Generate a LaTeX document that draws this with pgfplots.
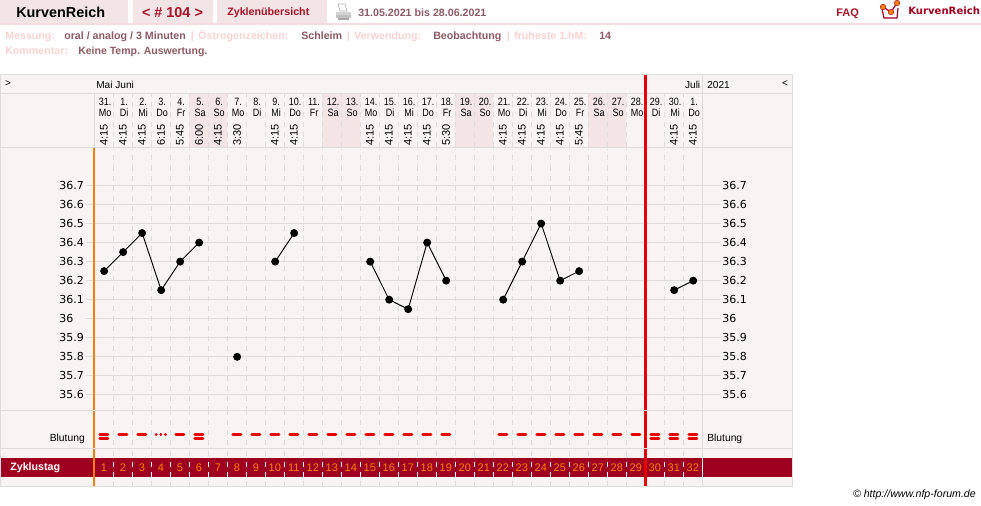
\documentclass[border=0pt]{standalone}
\usepackage{pgfplots}
\usepackage{graphicx}
\usepackage{fontspec}
\pgfplotsset{compat=1.18}
\setmainfont{Liberation Sans}
\newfontfamily\djv{DejaVu Sans}
\newcommand\fs[1]{\fontsize{\fpeval{#1*0.75}pt}{\fpeval{#1*0.9}pt}\selectfont}
\definecolor{panel}{HTML}{F9F4F4}
\definecolor{shadec}{HTML}{F3E4E6}
\definecolor{rulec}{HTML}{F4DCDF}
\definecolor{gridc}{HTML}{DEDCDC}
\definecolor{band}{HTML}{A00020}
\definecolor{redl}{HTML}{E60000}
\definecolor{orangel}{HTML}{FF8000}
\definecolor{pale}{HTML}{F9D2D2}
\definecolor{valc}{HTML}{8C5A64}
\definecolor{darkr}{HTML}{A31428}
\newcommand\dl[2]{\scalebox{.85}[1]{\fs{10.6}\setlength\tabcolsep{0pt}\renewcommand\arraystretch{.82}\begin{tabular}{c}#1\\#2\end{tabular}}}
\tikzset{px/.style={x=.75pt,y=-.75pt}}
\pgfplotsset{
  dashgrid/.style={xtick={1,2,...,32},
    minor xtick={1.5,2.5,...,31.5},
    xminorgrids, minor tick length=0pt, major tick length=0pt,
    minor grid style={draw=#1,line width=.75pt,dash pattern=on 3.75pt off 3.75pt},
    axis line style={draw=none}, ytick=\empty,
    scale only axis, anchor=south west},
  nolab/.style={xticklabels={}},
}
\begin{document}
\begin{tikzpicture}
\begin{scope}[px]
\path[use as bounding box] (0,0) rectangle (981,506);
% top bar
\fill[shadec] (0,0) rectangle (128,23);
\fill[shadec] (133,0) rectangle (212.5,23);
\fill[shadec] (217,0) rectangle (327,23);
\fill[rulec] (0,23) rectangle (981,25);
\node[anchor=west,inner sep=0,font=\fs{14.4}\bfseries] at (16,12.5) {KurvenReich};
\node[anchor=center,inner sep=0,font=\fs{14.4}\bfseries,text=darkr] at (172.5,12.5) {< \# 104 >};
\node[anchor=west,inner sep=0,font=\fs{10.7}\bfseries,text=darkr] at (227,12.5) {Zyklenübersicht};
\node[anchor=west,inner sep=0,font=\fs{10.67}\bfseries,text=valc] at (358,12.5) {31.05.2021 bis 28.06.2021};
\node[anchor=west,inner sep=0,font=\fs{11}\bfseries,text=darkr] at (836,14) {FAQ};
\node[anchor=west,inner sep=0,font=\djv\fs{10.1}\bfseries,text=band] at (908,10.5) {KurvenReich};
% printer icon
\fill[gridc!70!gray] (336,12) rectangle (351,18);
\fill[white,draw=gray!60,line width=.5pt] (338,4) -- (345,4) -- (347,11) -- (340,11) -- cycle;
\fill[gray!70] (338,18) rectangle (349,20);
\fill[gray!35] (336,12) rectangle (351,15);
% logo
\draw[band,line width=.9pt] (882,9) -- (884,18) -- (897,18) -- (898,8);
\draw[band,line width=.9pt] (883,7) -- (891,12) -- (897,3);
\foreach \a/\b in {883/7,891/12,897/3} \fill[orangel,draw=band,line width=.3pt] (\a,\b) circle[radius=2.8];
% info rows
\begin{scope}[every node/.style={anchor=base west,inner sep=0,font=\fs{10.67}\bfseries}]
\node[text=pale] at (5,40) {Messung:};
\node[text=valc] at (64,40) {oral / analog / 3 Minuten};
\node[text=pale] at (190.5,40) {|};
\node[text=pale] at (198,40) {Östrogenzeichen:};
\node[text=valc] at (301,40) {Schleim};
\node[text=pale] at (346.5,40) {|};
\node[text=pale] at (354,40) {Verwendung:};
\node[text=valc] at (433,40) {Beobachtung};
\node[text=pale] at (506.5,40) {|};
\node[text=pale] at (514,40) {früheste 1.hM:};
\node[text=valc] at (599,40) {14};
\node[text=pale] at (5,55) {Kommentar:};
\node[text=valc] at (78,55) {\fs{10.5}Keine Temp. Auswertung.};
\end{scope}
% panels
\fill[panel] (0.5,75) rectangle (792.5,486);
\foreach \a in {189,322,455,588} \fill[shadec] (\a,93.5) rectangle (\a+38,147.5);
\end{scope}
% header dashes and day labels
\begin{axis}[at={(70.75pt,-110.625pt)},width=456pt,height=40.5pt,dashgrid=gridc,
  xmin=0.5,xmax=32.5,ymin=0,ymax=1,
  xticklabels={\dl{31.}{Mo},\dl{1.}{Di},\dl{2.}{Mi},\dl{3.}{Do},\dl{4.}{Fr},\dl{5.}{Sa},\dl{6.}{So},\dl{7.}{Mo},\dl{8.}{Di},\dl{9.}{Mi},\dl{10.}{Do},\dl{11.}{Fr},\dl{12.}{Sa},\dl{13.}{So},\dl{14.}{Mo},\dl{15.}{Di},\dl{16.}{Mi},\dl{17.}{Do},\dl{18.}{Fr},\dl{19.}{Sa},\dl{20.}{So},\dl{21.}{Mo},\dl{22.}{Di},\dl{23.}{Mi},\dl{24.}{Do},\dl{25.}{Fr},\dl{26.}{Sa},\dl{27.}{So},\dl{28.}{Mo},\dl{29.}{Di},\dl{30.}{Mi},\dl{1.}{Do}},
  xticklabel style={anchor=center,inner sep=0pt,yshift=28.9pt,xshift=.9pt},
]
\end{axis}
\begin{scope}[px]
\foreach \d/\t in {1/4:15,2/4:15,3/4:15,4/6:15,5/5:45,6/6:00,7/4:15,8/3:30,10/4:15,11/4:15,15/4:15,16/4:15,17/4:15,18/4:15,19/5:30,22/4:15,23/4:15,24/4:15,25/4:15,26/5:45,31/4:15,32/4:15}
  \node[rotate=90,inner sep=0,font=\fs{11}] at ({94+19*(\d-.5)+.5},134.7) {\t};
\end{scope}
% temperature chart
\begin{axis}[at={(64.25pt,-307.875pt)},width=476.25pt,height=196.5pt,dashgrid=gridc,nolab,
  xmin=0.0263,xmax=33.447,ymin=35.518,ymax=36.894,
  ytick={35.6,35.7,35.8,35.9,36,36.1,36.2,36.3,36.4,36.5,36.6,36.7},
  ymajorgrids,major grid style={draw=gridc,line width=.75pt},
  unbounded coords=jump,
  /pgf/number format/.cd,assume math mode=true,fixed,precision=1,/pgfplots/.cd,
  yticklabel style={anchor=west,inner sep=0pt,xshift=-20pt,font=\djv\fs{11}},
]
\addplot[black,line width=.7pt,mark=*,mark size=2.6pt,mark options={fill=black}] table {
x y
1 36.25
2 36.35
3 36.45
4 36.15
5 36.3
6 36.4
7 nan
8 35.8
9 nan
10 36.3
11 36.45
12 nan
15 36.3
16 36.1
17 36.05
18 36.4
19 36.2
20 nan
22 36.1
23 36.3
24 36.5
25 36.2
26 36.25
27 nan
31 36.15
32 36.2
};
\end{axis}
\begin{axis}[at={(63.75pt,-307.875pt)},width=476.25pt,height=196.5pt,
  xtick=\empty,axis line style={draw=none},major tick length=0pt,scale only axis,anchor=south west,
  xmin=0.0263,xmax=33.447,ymin=35.518,ymax=36.894,
  ytick={35.6,35.7,35.8,35.9,36,36.1,36.2,36.3,36.4,36.5,36.6,36.7},
  yticklabel pos=right,
  /pgf/number format/.cd,assume math mode=true,fixed,precision=1,/pgfplots/.cd,
  yticklabel style={anchor=west,inner sep=0pt,xshift=1.5pt,font=\djv\fs{11}},
]
\end{axis}
% bleeding
\begin{axis}[at={(70.75pt,-336pt)},width=456pt,height=28.5pt,dashgrid=gridc,nolab,
  xmin=0.5,xmax=32.5,ymin=410,ymax=448,y dir=reverse]
\addplot[only marks,mark=-,mark size=3pt,mark options={draw=redl,line width=2.2pt,line cap=round}] table {
x y
1 434.5
1 438.5
2 434.5
3 434.5
5 434.5
6 434.5
6 438.5
8 434.5
9 434.5
10 434.5
11 434.5
12 434.5
13 434.5
14 434.5
15 434.5
16 434.5
17 434.5
18 434.5
19 434.5
22 434.5
23 434.5
24 434.5
25 434.5
26 434.5
27 434.5
28 434.5
29 434.5
30 434.5
30 438.5
31 434.5
31 438.5
32 434.5
32 438.5
};
\addplot[only marks,mark=*,mark size=.85pt,mark options={draw=redl,fill=redl}] table {
x y
3.755 434.5
4 434.5
4.245 434.5
};
\end{axis}
% cycle-day row
\begin{axis}[at={(70.75pt,-364.5pt)},width=456pt,height=28.5pt,dashgrid=gridc,nolab,
  xmin=0.5,xmax=32.5,ymin=0,ymax=1]
\end{axis}
\begin{scope}[px]
\fill[band] (1,458) rectangle (792,477);
\end{scope}
\begin{axis}[at={(70.75pt,-357.75pt)},width=456pt,height=14.25pt,dashgrid=white,
  xmin=0.5,xmax=32.5,ymin=0,ymax=1,
  /pgf/number format/.cd,assume math mode=true,/pgfplots/.cd,
  xticklabel style={anchor=center,inner sep=0pt,yshift=7.1pt,font=\fs{11},text=orangel},
]
\end{axis}
\begin{scope}[px]
% separators
\draw[orangel,line width=1.5pt] (93.5,148) -- (93.5,486);
\draw[redl,line width=2.25pt] (645.4,75) -- (645.4,486);
\draw[gridc,line width=.75pt] (0.5,75) rectangle (792.5,486);
\draw[gridc,line width=.75pt] (0.5,93.5) -- (644,93.5) (647,93.5) -- (792.5,93.5);
\draw[gridc,line width=.75pt] (0.5,147.5) -- (644,147.5) (647,147.5) -- (792.5,147.5);
\draw[gridc,line width=.75pt] (0.5,410.5) -- (792.5,410.5);
\draw[gridc,line width=.75pt] (0.5,448.5) -- (792.5,448.5);
\draw[gridc,line width=.75pt] (702.5,75) -- (702.5,486);
\draw[gridc,line width=.75pt] (94,93.5) -- (94,147.5);
\draw[white,line width=.5pt] (702.5,458) -- (702.5,477);
% labels
\node[anchor=east,inner sep=0,font=\fs{10.3}] at (85,439) {Blutung};
\node[anchor=west,inner sep=0,font=\fs{10.3}] at (707,439) {Blutung};
\node[anchor=west,inner sep=0,font=\fs{10.7}\bfseries,text=white] at (10,467.5) {Zyklustag};
\node[anchor=west,inner sep=0,font=\fs{10.1}] at (96,85) {Mai Juni};
\node[anchor=east,inner sep=0,font=\fs{10.1}] at (700.5,85) {Juli};
\node[anchor=west,inner sep=0,font=\fs{10.1}] at (707,85) {2021};
\node[anchor=center,inner sep=0,font=\fs{10}] at (8,84) {>};
\node[anchor=center,inner sep=0,font=\fs{10}] at (785,84) {<};
\node[anchor=east,inner sep=0,font=\fs{10.6}\itshape] at (976,494.5) {© http://www.nfp-forum.de};
\end{scope}
\end{tikzpicture}
\end{document}
